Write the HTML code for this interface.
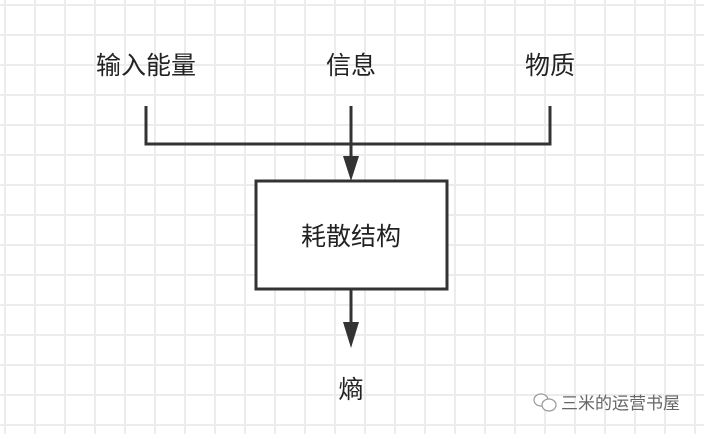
<!DOCTYPE html>
<html><head><meta charset="utf-8"><style>
body{margin:0;width:704px;height:434px;overflow:hidden;background:#fff;
background-image:linear-gradient(#ececec 2px,transparent 2px),linear-gradient(90deg,#ececec 2px,transparent 2px);
background-size:30px 30px;background-position:4px 4px;}
svg{position:absolute;left:0;top:0}
text{font-family:"Liberation Sans","Noto Sans CJK SC",sans-serif;fill:#222}
</style></head><body>
<svg width="704" height="434">
<g stroke="#333" stroke-width="3" fill="none">
<path d="M146 106V144H550V106M351 106V162"/>
<rect x="256" y="181" width="191" height="108" fill="#fff"/>
<path d="M351 290V322"/>
</g>
<path d="M343 156L351 181L359 156Z" fill="#333"/>
<path d="M343 322L351 348L359 322Z" fill="#333"/>
<text x="146" y="74" font-size="25" text-anchor="middle">输入能量</text>
<text x="351" y="74" font-size="25" text-anchor="middle">信息</text>
<text x="550" y="74" font-size="25" text-anchor="middle">物质</text>
<text x="351" y="245" font-size="25" text-anchor="middle">耗散结构</text>
<text x="351" y="398" font-size="25" text-anchor="middle">熵</text>
<g stroke="#999" stroke-width="1.2" fill="#fff"><ellipse cx="541" cy="400" rx="7" ry="6"/><ellipse cx="549" cy="405" rx="7" ry="6"/></g>
<text x="561" y="409" font-size="17" style="fill:#666">三米的运营书屋</text>
</svg>
</body></html>
